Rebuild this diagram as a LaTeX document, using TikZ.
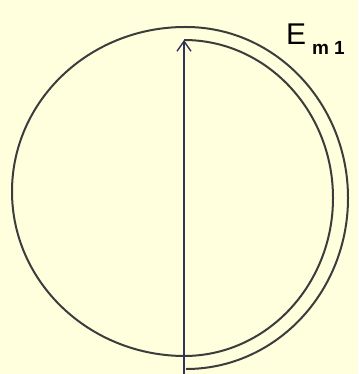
\documentclass[tikz,border=0pt]{standalone}
\usepackage{fontspec}
\setmainfont{Liberation Sans}
\usetikzlibrary{arrows.meta}
\definecolor{bg}{RGB}{255,255,222}
\definecolor{ink}{RGB}{60,60,60}
\begin{document}
\begin{tikzpicture}[x=1pt,y=-1pt,
  curve/.style={draw=ink,line width=2pt,line join=round},
  phasor/.style={draw=ink!85!blue,line width=1.5pt,-{Straight Barb[length=10pt,width=14pt,line width=1.4pt]}},
  lbl/.style={inner sep=0pt,anchor=base west,text=black}]
\fill[bg] (0,0) rectangle (358,374);
\useasboundingbox (0,0) rectangle (358,374);
% left half of the circle continuing into the outer right arc
\draw[curve] (185,356) arc[start angle=270,end angle=90,x radius=173,y radius=-164.5]
  -- (186,27) arc[start angle=90,end angle=-90,x radius=162,y radius=-171];
% inner right arc
\draw[curve] (184,40) arc[start angle=90,end angle=-90,x radius=149,y radius=-158];
\coordinate (base) at (184,374);
\coordinate (tip) at (184,40);
\draw[phasor] (base) -- (tip);
\node[lbl,font=\fontsize{30}{30}\selectfont] (E) at (286,45) {E};
\node[lbl,font=\bfseries\fontsize{19}{19}\selectfont] (sub) at (312,55) {m\hspace{5pt}1};
\end{tikzpicture}
\end{document}
